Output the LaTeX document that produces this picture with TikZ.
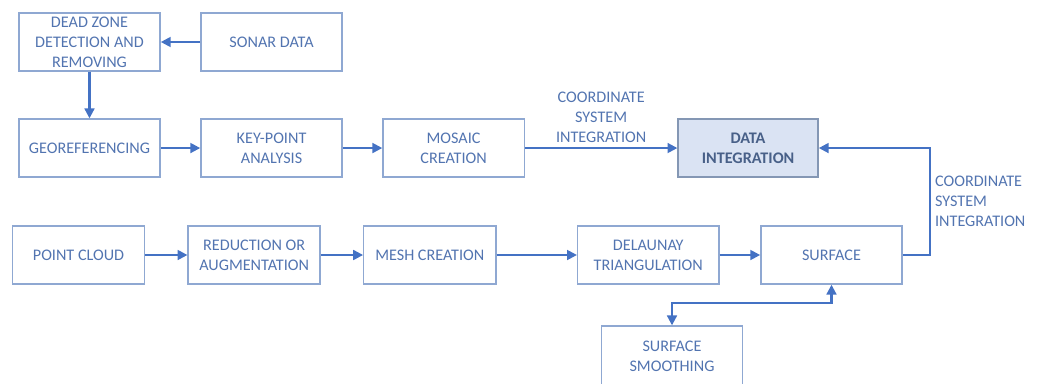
\documentclass[tikz,border=0pt]{standalone}
\usepackage{fontspec}
\setmainfont{Carlito}
\usetikzlibrary{positioning,arrows.meta}

\definecolor{flowblue}{RGB}{68,114,196}
\definecolor{boxedge}{RGB}{143,168,210}
\definecolor{boxtext}{RGB}{82,116,176}
\definecolor{mainfill}{RGB}{218,227,243}
\definecolor{mainedge}{RGB}{132,151,180}
\definecolor{maintext}{RGB}{72,96,136}

\tikzstyle{block} = [rectangle, draw=boxedge, line width=1pt, text=boxtext, minimum width=3.53cm, minimum height=1.45cm, align=center, inner sep=1pt, font=\fontsize{11.5}{14.2}\selectfont]
\tikzstyle{narrow} = [minimum width=3.3cm]
\tikzstyle{mainblock} = [block, fill=mainfill, draw=mainedge, text=maintext, minimum width=3.5cm, font=\fontsize{11.5}{14.2}\selectfont\bfseries]
\tikzstyle{line} = [draw=flowblue, line width=1.5pt, -{Triangle[length=7pt,width=7pt]}]
\tikzstyle{note} = [text=boxtext, font=\fontsize{11.5}{14.2}\selectfont, inner sep=3pt]

\begin{document}
\begin{tikzpicture}[x=0.025cm, y=-0.025cm]

    \useasboundingbox (0,0) rectangle (1044,383);

    % SONAR branch
        \node [block] at (89.5,42)
            (dead) {DEAD ZONE\\DETECTION AND\\REMOVING};
        \node [block, right of=dead, node distance=4.55cm]
            (sonar) {SONAR DATA};
        \node [block, below of=dead, node distance=2.65cm]
            (georef) {GEOREFERENCING};
        \node [block, right of=georef, node distance=4.55cm]
            (keypoint) {KEY-POINT\\ANALYSIS};
        \node [block, right of=keypoint, node distance=4.55cm]
            (mosaic) {MOSAIC\\CREATION};
    % DATA INTEGRATION
        \node [mainblock, right of=mosaic, node distance=7.36cm]
            (dataint) {DATA\\INTEGRATION};

    % POINT CLOUD branch
        \node [block, narrow] at (78.5,255)
            (cloud) {POINT CLOUD};
        \node [block, narrow, right of=cloud, node distance=4.39cm]
            (reduce) {REDUCTION OR\\AUGMENTATION};
        \node [block, narrow, right of=reduce, node distance=4.39cm]
            (mesh) {MESH CREATION};
        \node [block, right of=mesh, node distance=5.46cm]
            (delaunay) {DELAUNAY\\TRIANGULATION};
        \node [block, right of=delaunay, node distance=4.58cm]
            (surface) {SURFACE};
        \node [block, minimum height=1.5cm] at (672,356)
            (smoothing) {SURFACE\\SMOOTHING};

    % LINES top row
        \path[line] (sonar) -- (dead);
        \path[line] (dead) -- (georef);
        \path[line] (georef) -- (keypoint);
        \path[line] (keypoint) -- (mosaic);
        \path[line] (mosaic) --
            node[note, above, align=center] {COORDINATE\\SYSTEM\\INTEGRATION}
            (dataint);

    % LINES bottom row
        \path[line] (cloud) -- (reduce);
        \path[line] (reduce) -- (mesh);
        \path[line] (mesh) -- (delaunay);
        \path[line] (delaunay) -- (surface);

    % LINE surface -> data integration
        \path[line] (surface.east) -- ++(27,0)
            |- node[note, right, pos=0.25, align=left] {COORDINATE\\SYSTEM\\INTEGRATION}
            (dataint.east);
    % LINE surface <-> smoothing
        \path[line, {Triangle[length=7pt,width=7pt]}-{Triangle[length=7pt,width=7pt]}]
            (smoothing.north) -- ++(0,-22)
            -| (surface.south);

\end{tikzpicture}
\end{document}
